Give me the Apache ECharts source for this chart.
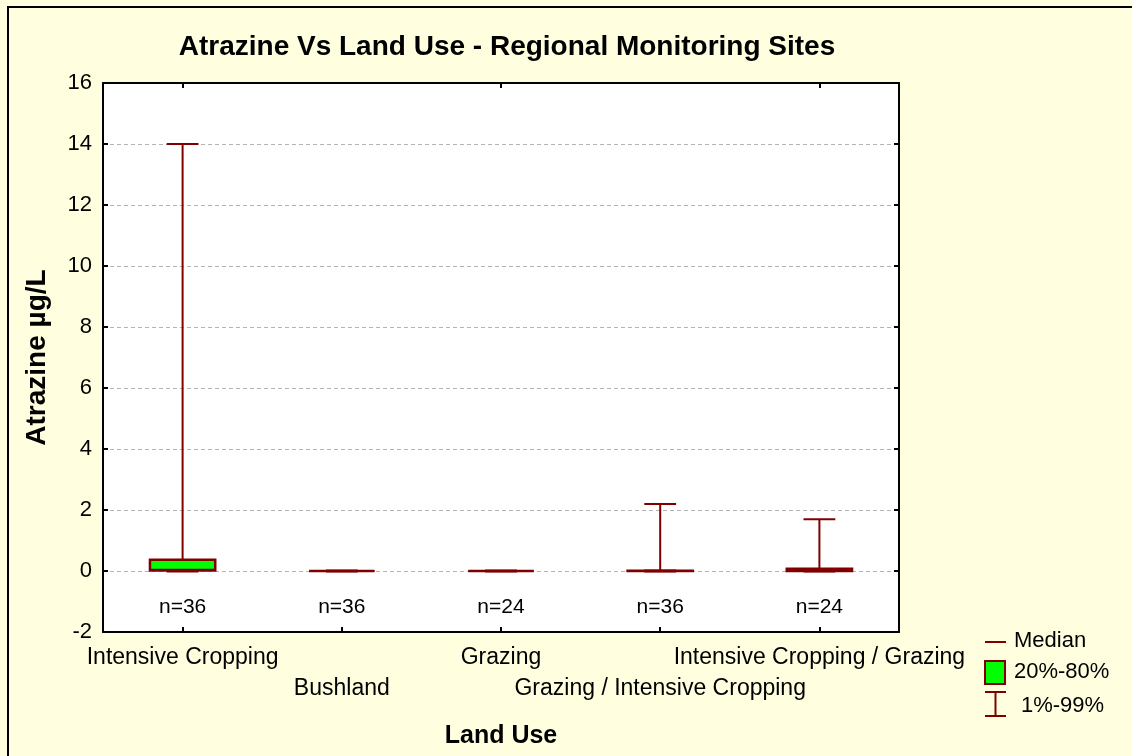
<!DOCTYPE html>
<html>
<head>
<meta charset="utf-8">
<script src="https://cdn.jsdelivr.net/npm/echarts@6/dist/echarts.min.js"></script>
<style>
  html, body { margin: 0; padding: 0; background: #FFFFE0; }
  #chart { width: 1132px; height: 756px; }
</style>
</head>
<body>
<div id="chart"></div>
<script>
const categories = ['Intensive Cropping', 'Bushland', 'Grazing', 'Grazing / Intensive Cropping', 'Intensive Cropping / Grazing'];
const p01 = [0, 0, 0, 0, 0];
const p20 = [0.02, 0, 0, 0, 0];
const median = [0.04, 0, 0, 0, 0.02];
const p80 = [0.37, 0, 0, 0.01, 0.07];
const p99 = [14, 0, 0, 2.2, 1.7];
const counts = [36, 36, 24, 36, 24];
const yTicks = [-2, 0, 2, 4, 6, 8, 10, 12, 14, 16];
const nLabelY = -1.2;

const RED = '#800000';
const GREEN = '#00FF00';
const FONT = 'Arial, "Liberation Sans", sans-serif';

const boxData = categories.map((c, i) => [i, p01[i], p20[i], median[i], p80[i], p99[i]]);
const countData = categories.map((c, i) => [i, nLabelY, counts[i]]);

function renderBox(params, api) {
  const i = api.value(0);
  const band = api.size([1, 0])[0];
  const boxW = band * 0.41, capW = band * 0.2;
  const lo = api.coord([i, api.value(1)]);
  const q1 = api.coord([i, api.value(2)]);
  const md = api.coord([i, api.value(3)]);
  const q3 = api.coord([i, api.value(4)]);
  const hi = api.coord([i, api.value(5)]);
  const x = lo[0];
  const line = (x1, y1, x2, y2, w) => ({
    type: 'line', shape: { x1, y1, x2, y2 },
    style: { stroke: RED, lineWidth: w || 2 }
  });
  return {
    type: 'group',
    children: [
      line(x, q3[1], x, hi[1]),
      line(x - capW / 2, hi[1], x + capW / 2, hi[1]),
      line(x, lo[1], x, q1[1]),
      line(x - capW / 2, lo[1], x + capW / 2, lo[1], 3),
      {
        type: 'rect',
        shape: { x: x - boxW / 2, y: q3[1], width: boxW, height: q1[1] - q3[1] },
        style: { fill: GREEN, stroke: RED, lineWidth: 2.5 }
      },
      line(x - boxW / 2, md[1], x + boxW / 2, md[1], 2)
    ]
  };
}

function renderCount(params, api) {
  const p = api.coord([api.value(0), api.value(1)]);
  return {
    type: 'text',
    style: {
      x: p[0], y: p[1], text: 'n=' + api.value(2),
      align: 'center', verticalAlign: 'middle',
      font: '21px ' + FONT, fill: '#000'
    }
  };
}

const tickStyle = { show: true, inside: true, length: 5, lineStyle: { color: '#000', width: 2 } };
const lineStyle = { show: true, onZero: false, lineStyle: { color: '#000', width: 2 } };

const chart = echarts.init(document.getElementById('chart'));
chart.setOption({
  backgroundColor: '#FFFFE0',
  animation: false,
  title: {
    text: 'Atrazine Vs Land Use - Regional Monitoring Sites',
    left: 502, top: 28, textAlign: 'center',
    textStyle: { fontFamily: FONT, fontSize: 28, fontWeight: 'bold', color: '#000' }
  },
  grid: {
    left: 103, right: 233, top: 83, bottom: 124,
    show: true, backgroundColor: '#FFFFFF', borderWidth: 0
  },
  xAxis: [{
    type: 'category', data: categories, position: 'bottom',
    name: 'Land Use', nameLocation: 'middle', nameGap: 92,
    nameTextStyle: { fontFamily: FONT, fontSize: 25, fontWeight: 'bold', color: '#000' },
    axisLine: lineStyle,
    axisTick: Object.assign({ alignWithLabel: true }, tickStyle),
    axisLabel: {
      interval: 0, margin: 10, color: '#000', fontFamily: FONT, fontSize: 23, lineHeight: 31,
      formatter: (v, i) => (i % 2 ? '\n' + v : v)
    },
    splitLine: { show: false }
  }, {
    type: 'category', data: categories, position: 'top',
    axisLine: lineStyle,
    axisTick: Object.assign({ alignWithLabel: true }, tickStyle),
    axisLabel: { show: false }
  }],
  yAxis: [{
    type: 'value', min: -2, max: 16, interval: 2,
    name: 'Atrazine µg/L', nameLocation: 'middle', nameGap: 52,
    nameTextStyle: { fontFamily: FONT, fontSize: 28, fontWeight: 'bold', color: '#000' },
    axisLine: lineStyle,
    axisTick: tickStyle,
    axisLabel: {
      margin: 11, color: '#000', fontFamily: FONT, fontSize: 22,
      formatter: v => (yTicks.includes(v) ? String(v) : '')
    },
    splitLine: { show: true, lineStyle: { color: '#b4b4b4', type: [4, 3], width: 1 } }
  }, {
    type: 'value', min: -2, max: 16, interval: 2, position: 'right',
    axisLine: lineStyle,
    axisTick: tickStyle,
    axisLabel: { show: false },
    splitLine: { show: false }
  }],
  series: [{
    type: 'custom', renderItem: renderBox, data: boxData,
    encode: { x: 0, y: [1, 2, 3, 4, 5] }, z: 5
  }, {
    type: 'custom', renderItem: renderCount, data: countData,
    encode: { x: 0, y: 1 }, z: 5
  }],
  graphic: [
    { type: 'rect', shape: { x: 8, y: 7, width: 1140, height: 770 },
      style: { fill: 'none', stroke: '#000', lineWidth: 2 }, silent: true },
    { type: 'line', shape: { x1: 985, y1: 642, x2: 1006, y2: 642 },
      style: { stroke: RED, lineWidth: 2 } },
    { type: 'rect', shape: { x: 985, y: 661, width: 20, height: 23 },
      style: { fill: GREEN, stroke: RED, lineWidth: 2 } },
    { type: 'line', shape: { x1: 985, y1: 692, x2: 1006, y2: 692 },
      style: { stroke: RED, lineWidth: 2 } },
    { type: 'line', shape: { x1: 995.5, y1: 692, x2: 995.5, y2: 716 },
      style: { stroke: RED, lineWidth: 2 } },
    { type: 'line', shape: { x1: 985, y1: 716, x2: 1006, y2: 716 },
      style: { stroke: RED, lineWidth: 2 } },
    { type: 'text', left: 1014, top: 630,
      style: { text: 'Median', font: '22px ' + FONT, fill: '#000' } },
    { type: 'text', left: 1014, top: 661,
      style: { text: '20%-80%', font: '22px ' + FONT, fill: '#000' } },
    { type: 'text', left: 1021, top: 695,
      style: { text: '1%-99%', font: '22px ' + FONT, fill: '#000' } }
  ]
});
</script>
</body>
</html>
